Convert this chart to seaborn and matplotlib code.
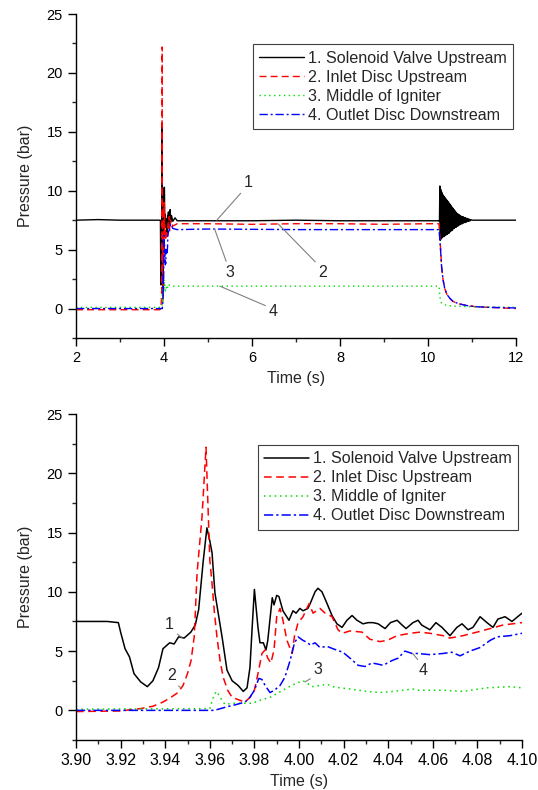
import numpy as np
import matplotlib
matplotlib.use("Agg")
import matplotlib.pyplot as plt
from matplotlib.ticker import MultipleLocator, FormatStrFormatter
import seaborn as sns

# ---- data read from the zoomed (3.90-4.10 s) panel ----
t1_zoom = [3.900, 3.914, 3.919, 3.920, 3.922, 3.924, 3.926, 3.929, 3.932, 3.9345, 3.937, 3.939, 3.942,
           3.944, 3.946, 3.9485, 3.9515, 3.9535, 3.955, 3.957, 3.9587, 3.960, 3.961, 3.9623, 3.9655,
           3.9677, 3.970, 3.9727, 3.975, 3.9767, 3.978, 3.979, 3.980, 3.9816, 3.9825, 3.984, 3.9852,
           3.986, 3.988, 3.9888, 3.990, 3.991, 3.9928, 3.9955, 3.9973, 3.9987, 4.0004, 4.0018, 4.004,
           4.005, 4.0072, 4.0085, 4.0103, 4.0126, 4.0148, 4.017, 4.0193, 4.0215, 4.0238, 4.026, 4.0287,
           4.031, 4.0332, 4.0355, 4.0386, 4.041, 4.044, 4.0462, 4.048, 4.0511, 4.0534, 4.055, 4.0587,
           4.0614, 4.0641, 4.0677, 4.0708, 4.0731, 4.0758, 4.078, 4.0812, 4.0843, 4.087, 4.0892, 4.0924,
           4.0955, 4.100]
p1_zoom = [7.5, 7.5, 7.4, 6.6, 5.2, 4.5, 3.1, 2.4, 2.0, 2.5, 3.6, 5.2, 5.7,
           5.6, 6.2, 6.1, 6.6, 7.2, 8.5, 12.5, 15.4, 14.3, 13.3, 9.9, 6.2,
           3.4, 2.5, 2.1, 1.6, 1.9, 3.6, 7.0, 10.2, 7.0, 5.7, 5.7, 5.1,
           5.9, 9.5, 8.9, 9.7, 9.6, 8.4, 7.6, 8.4, 8.2, 8.6, 8.4, 8.6,
           9.0, 10.0, 10.3, 10.0, 9.0, 8.0, 7.3, 7.0, 7.6, 8.0, 7.6, 7.3,
           7.4, 7.4, 7.3, 6.9, 7.4, 7.6, 7.2, 6.9, 7.4, 7.6, 7.2, 6.8,
           7.4, 7.0, 6.3, 7.0, 7.3, 6.8, 7.0, 7.9, 7.4, 7.0, 7.7, 7.9,
           7.5, 8.2]

t2_zoom = [3.900, 3.920, 3.929, 3.9345, 3.939, 3.9426, 3.9457, 3.948, 3.950, 3.9516, 3.953, 3.9534,
           3.9543, 3.9565, 3.9583, 3.960, 3.961, 3.962, 3.9632, 3.9646, 3.966, 3.968, 3.970, 3.9735,
           3.9758, 3.978, 3.980, 3.9816, 3.9834, 3.9848, 3.986, 3.9874, 3.9888, 3.990, 3.9915, 3.9928,
           3.9946, 3.9969, 3.998, 3.9996, 4.0018, 4.0045, 4.0063, 4.0094, 4.0117, 4.0148, 4.0175,
           4.0193, 4.0229, 4.0283, 4.0318, 4.0363, 4.0395, 4.044, 4.0498, 4.0543, 4.0587, 4.0646,
           4.0677, 4.0735, 4.0798, 4.0857, 4.0915, 4.100]
p2_zoom = [-0.1, -0.05, 0.15, 0.35, 0.7, 1.1, 1.5, 2.1, 3.1, 4.2, 6.2, 7.8,
           11.6, 16.3, 22.2, 12.7, 10.7, 8.4, 6.2, 4.2, 2.8, 1.7, 1.1, 0.85,
           0.7, 1.1, 1.7, 3.1, 4.8, 5.1, 4.4, 4.0, 5.1, 7.9, 8.6, 7.6,
           5.9, 4.8, 6.3, 7.4, 7.9, 9.0, 8.2, 8.6, 8.2, 7.9, 6.8,
           6.5, 6.7, 6.6, 6.0, 5.8, 5.9, 6.3, 6.5, 6.6, 6.5, 6.3,
           6.1, 6.3, 6.6, 6.9, 7.2, 7.4]

t3_zoom = [3.900, 3.960, 3.9614, 3.9628, 3.9637, 3.9655, 3.9668, 3.9704, 3.9749, 3.979, 3.9825, 3.987,
           3.990, 3.9946, 3.999, 4.0018, 4.0036, 4.0058, 4.0094, 4.0126, 4.0152, 4.0184, 4.0229,
           4.0305, 4.0363, 4.0422, 4.0511, 4.0529, 4.0646, 4.0735, 4.0843, 4.0946, 4.100]
p3_zoom = [0.1, 0.15, 1.0, 1.6, 1.4, 0.85, 0.5, 0.6, 0.6, 0.6, 0.85, 1.1,
           1.4, 1.9, 2.3, 2.5, 2.3, 2.0, 2.1, 2.2, 2.0, 1.9, 1.8,
           1.6, 1.5, 1.6, 1.8, 1.7, 1.7, 1.6, 1.9, 2.0, 1.9]

t4_zoom = [3.900, 3.962, 3.9677, 3.972, 3.9758, 3.978, 3.980, 3.982, 3.9834, 3.9848, 3.987, 3.989,
           3.9915, 3.9937, 3.996, 3.998, 3.9996, 4.0018, 4.004, 4.005, 4.0072, 4.0094, 4.0126, 4.0152,
           4.0197, 4.0229, 4.0265, 4.0296, 4.0327, 4.0354, 4.0377, 4.0417, 4.0444, 4.0475, 4.0507,
           4.0529, 4.0587, 4.0646, 4.0686, 4.0722, 4.0767, 4.0812, 4.0857, 4.0888, 4.0946, 4.100]
p4_zoom = [0.0, 0.0, 0.3, 0.5, 0.7, 1.1, 1.7, 2.7, 2.6, 2.1, 1.5, 1.7,
           2.1, 2.8, 4.2, 5.7, 6.2, 5.9, 5.7, 5.5, 5.7, 5.3, 5.4, 5.2,
           4.9, 4.4, 3.8, 3.7, 4.0, 3.9, 3.8, 4.2, 4.4, 5.0, 4.8,
           4.8, 4.7, 4.8, 4.9, 4.6, 5.0, 5.3, 5.9, 6.2, 6.3, 6.5]

# ---- extra data for the full 2-12 s record ----
t1_pre, p1_pre = [2.0, 2.5, 3.0, 3.5, 3.85], [7.5, 7.55, 7.5, 7.5, 7.5]
t1_mid = [4.11, 4.12, 4.13, 4.14, 4.15, 4.17, 4.2, 4.25, 4.3, 5.0, 6.0, 7.0, 8.0, 9.0, 10.0, 10.25]
p1_mid = [7.0, 8.0, 7.2, 8.4, 7.3, 7.9, 7.4, 7.7, 7.45, 7.45, 7.45, 7.5, 7.45, 7.45, 7.45, 7.45]
# valve-closing ringing, 10.26 - 10.97 s, one reading every 10 ms
p1_ring = [7.4, 10.4, 5.8, 10.1, 5.9, 9.9, 6.0, 9.7, 6.1, 9.6,
           6.1, 9.5, 6.2, 9.4, 6.2, 9.3, 6.3, 9.2, 6.3, 9.1,
           6.4, 9.0, 6.4, 8.9, 6.5, 8.8, 6.6, 8.7, 6.6, 8.6,
           6.7, 8.5, 6.8, 8.4, 6.8, 8.3, 6.9, 8.2, 6.9, 8.1,
           7.0, 8.05, 7.0, 8.0, 7.1, 7.95, 7.1, 7.9, 7.15, 7.85,
           7.2, 7.8, 7.2, 7.8, 7.25, 7.75, 7.3, 7.7, 7.3, 7.7,
           7.35, 7.65, 7.35, 7.65, 7.4, 7.6, 7.4, 7.6, 7.45, 7.55,
           7.45, 7.55]
t1_ring = np.linspace(10.26, 10.97, len(p1_ring))
t1_post, p1_post = [11.0, 11.5, 12.0], [7.5, 7.5, 7.5]

t2_pre, p2_pre = [2.0, 3.85], [-0.1, -0.1]
t2_post = [4.11, 4.12, 4.13, 4.15, 4.2, 4.3, 5.0, 6.0, 7.0, 8.0, 9.0, 10.0, 10.25, 10.27, 10.29,
           10.31, 10.34, 10.38, 10.43, 10.5, 10.57, 10.7, 10.89, 11.1, 11.4, 12.0]
p2_post = [6.8, 7.8, 6.6, 7.5, 7.0, 7.2, 7.2, 7.15, 7.2, 7.2, 7.15, 7.2, 7.2, 6.0, 4.8,
           3.5, 2.5, 1.7, 1.2, 0.85, 0.6, 0.4, 0.25, 0.15, 0.1, 0.0]

t3_pre, p3_pre = [2.0, 3.85], [0.1, 0.1]
t3_post = [4.12, 4.2, 5.0, 7.0, 9.0, 10.25, 10.27, 10.3, 10.35, 10.45, 10.6, 11.0, 12.0]
p3_post = [2.0, 1.9, 1.9, 1.9, 1.9, 1.9, 1.0, 0.5, 0.35, 0.25, 0.2, 0.15, 0.1]

t4_pre, p4_pre = [2.0, 3.85], [0.0, 0.0]
t4_post = [4.12, 4.15, 4.2, 4.3, 5.0, 7.0, 9.0, 10.25, 10.27, 10.29, 10.31, 10.34, 10.38, 10.43,
           10.5, 10.57, 10.7, 10.89, 11.1, 11.4, 12.0]
p4_post = [6.7, 7.2, 6.8, 6.7, 6.75, 6.7, 6.7, 6.7, 5.8, 4.7, 3.5, 2.5, 1.7, 1.2,
           0.85, 0.6, 0.4, 0.25, 0.15, 0.1, 0.05]

labels = ["1. Solenoid Valve Upstream", "2. Inlet Disc Upstream",
          "3. Middle of Igniter", "4. Outlet Disc Downstream"]
colors = ["black", "#ff0000", "#00dd00", "#0000ff"]
styles = ["-", (0, (5, 3)), (0, (1, 2.5)), (0, (6, 2, 1.5, 2))]

full = [
    (t1_pre + t1_zoom + t1_mid + list(t1_ring) + t1_post, p1_pre + p1_zoom + p1_mid + p1_ring + p1_post),
    (t2_pre + t2_zoom + t2_post, p2_pre + p2_zoom + p2_post),
    (t3_pre + t3_zoom + t3_post, p3_pre + p3_zoom + p3_post),
    (t4_pre + t4_zoom + t4_post, p4_pre + p4_zoom + p4_post),
]
zoom = [(t1_zoom, p1_zoom), (t2_zoom, p2_zoom), (t3_zoom, p3_zoom), (t4_zoom, p4_zoom)]

sns.set_style("ticks")
plt.rcParams["font.family"] = ["Liberation Sans", "DejaVu Sans"]

fig = plt.figure(figsize=(5.38, 7.9), dpi=100)
ax1 = fig.add_axes([76 / 538, 1 - 338 / 790, 440 / 538, 324 / 790])
ax2 = fig.add_axes([76 / 538, 1 - 740 / 790, 446 / 538, 326 / 790])


def draw(ax, series, lw):
    for (t, p), lab, c, ls in zip(series, labels, colors, styles):
        sns.lineplot(x=t, y=p, ax=ax, color=c, lw=lw, label=lab,
                     sort=False, estimator=None)
        ax.get_lines()[-1].set_linestyle(ls)


def style_axes(ax, xmaj, xmin, xsize):
    ax.set_ylim(-2.5, 25)
    ax.yaxis.set_major_locator(MultipleLocator(5))
    ax.yaxis.set_minor_locator(MultipleLocator(2.5))
    ax.xaxis.set_major_locator(MultipleLocator(xmaj))
    ax.xaxis.set_minor_locator(MultipleLocator(xmin))
    ax.tick_params(which="major", direction="out", length=6, width=1, labelsize=10.5, colors="black")
    ax.tick_params(axis="x", which="major", labelsize=xsize)
    ax.tick_params(which="minor", direction="out", length=3, width=1)
    for s in ["top", "right"]:
        ax.spines[s].set_visible(False)
    for s in ["left", "bottom"]:
        ax.spines[s].set_color("black")
        ax.spines[s].set_linewidth(1)
    ax.set_xlabel("Time (s)", fontsize=11.5, labelpad=4)
    ax.set_ylabel("Pressure (bar)", fontsize=11.5, labelpad=10)


draw(ax1, full, 1.0)
ax1.set_xlim(2, 12)
style_axes(ax1, 2, 1, 10.5)

draw(ax2, zoom, 1.1)
ax2.set_xlim(3.90, 4.10)
style_axes(ax2, 0.02, 0.01, 11.5)
ax2.xaxis.set_major_formatter(FormatStrFormatter("%.2f"))

for ax, anchor in [(ax1, (0.993, 0.907)), (ax2, (0.991, 0.905))]:
    leg = ax.legend(loc="upper right", bbox_to_anchor=anchor, fontsize=11.6,
                    frameon=True, fancybox=False, framealpha=1, edgecolor="#404040",
                    handlelength=2.8, handletextpad=0.2, labelspacing=0.25, borderpad=0.4,
                    borderaxespad=0)
    leg.get_frame().set_linewidth(0.8)

arrow = dict(arrowstyle="-", color="gray", lw=0.8, shrinkA=0, shrinkB=0)
notes1 = [("1", (5.2, 7.5), (5.91, 10.7), (0, 0)),
          ("3", (5.15, 6.75), (5.5, 3.1), (0.2, 1)),
          ("4", (5.27, 1.9), (6.48, -0.25), (0, 0.8)),
          ("2", (6.59, 7.2), (7.61, 3.05), (0, 1))]
notes2 = [("1", (3.9475, 6.15), (3.942, 7.26), (1, 0)),
          ("2", (3.947, 1.9), (3.943, 2.96), (0.8, 0)),
          ("3", (4.0027, 2.4), (4.0085, 3.46), (0, 0)),
          ("4", (4.051, 4.8), (4.0556, 3.38), (0.2, 1))]
for ax, notes in [(ax1, notes1), (ax2, notes2)]:
    for txt, xy, xyt, rp in notes:
        ax.annotate(txt, xy=xy, xytext=xyt, fontsize=11.5, ha="center", va="center",
                    arrowprops=dict(arrow, relpos=rp))

fig.savefig("out.png", dpi=100)
